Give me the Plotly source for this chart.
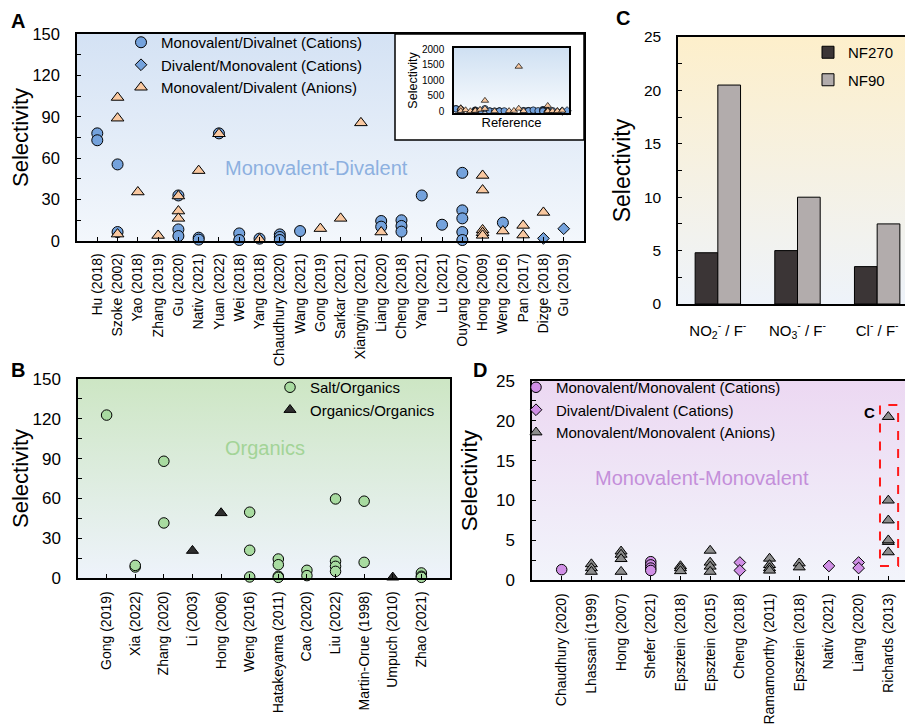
import base64
import plotly.graph_objects as go

# ---------------- data ----------------
A_CATS = ["Hu (2018)", "Szoke (2002)", "Yao (2018)", "Zhang (2019)", "Gu (2020)", "Nativ (2021)",
          "Yuan (2022)", "Wei (2018)", "Yang (2018)", "Chaudhury (2020)", "Wang (2021)", "Gong (2019)",
          "Sarkar (2021)", "Xiangying (2021)", "Liang (2020)", "Cheng (2018)", "Yang (2021)", "Lu (2021)",
          "Ouyang (2007)", "Hong (2009)", "Weng (2016)", "Pan (2017)", "Dizge (2018)", "Gu (2019)"]
# values per category (same order as A_CATS)
A_MONO_DIV_CATIONS = [[78, 73], [55.5, 6.5], [], [], [33, 8.4, 3.6], [2.4, 1.0], [78], [5.5, 0.7],
                      [1.7], [4.8, 2.9, 0.7], [7.2], [], [], [], [14.5, 10.4], [15, 10.9, 6.8], [33],
                      [11.8], [49.4, 22.2, 16.4, 6.5, 0.7], [], [13.3], [], [], []]
A_DIV_MONO_CATIONS = [[], [], [], [], [], [], [], [], [], [], [], [], [], [], [], [], [], [], [], [],
                      [], [], [1.9], [8.9]]
A_MONO_DIV_ANIONS = [[], [104, 89, 5], [35.5], [4], [32.6, 21.7, 16.4], [51], [77.7, 340], [], [1.2],
                     [], [], [9], [16.4], [85.6, 1440], [6.5], [], [], [], [],
                     [47.5, 36.9, 8, 6, 4.1, 175], [7.2], [11.3, 4.3], [20.7], []]
A_YTICKS = [0, 30, 60, 90, 120, 150]
INSET_YTICKS = [0, 500, 1000, 1500, 2000]

B_CATS = ["Gong (2019)", "Xia (2022)", "Zhang (2020)", "Li (2003)", "Hong (2006)", "Weng (2016)",
          "Hatakeyama (2011)", "Cao (2020)", "Liu (2022)", "Martin-Orue (1998)", "Umpuch (2010)", "Zhao (2021)"]
B_SALT_ORGANICS = [[122.8], [8.3, 9.5], [88, 41.5], [], [], [49.6, 20.9, 0.8], [14.3, 10, 1.3, 0.5],
                   [5.8, 1.8], [59.6, 12.6, 8.8, 5], [57.9, 11.8], [], [3.8, 1.3, 0.5]]
B_ORGANICS_ORGANICS = [[], [], [], [20.6], [49], [], [], [], [], [], [0.5], []]
B_YTICKS = [0, 30, 60, 90, 120, 150]

C_CATS = ["NO<sub>2</sub><sup>-</sup> / F<sup>-</sup>", "NO<sub>3</sub><sup>-</sup> / F<sup>-</sup>",
          "Cl<sup>-</sup> / F<sup>-</sup>"]
C_NF270 = [4.8, 5.0, 3.5]
C_NF90 = [20.5, 10.0, 7.5]
C_YTICKS = [0, 5, 10, 15, 20, 25]

D_CATS = ["Chaudhury (2020)", "Lhassani (1999)", "Hong (2007)", "Shefer (2021)", "Epsztein (2018)",
          "Epsztein (2015)", "Cheng (2018)", "Ramamoorthy (2011)", "Epsztein (2018)", "Nativ (2021)",
          "Liang (2020)", "Richards (2013)"]
D_MONO_MONO_CATIONS = [[1.3], [], [], [2.3, 1.9, 1.5, 1.2], [], [], [], [], [], [], [], []]
D_DIV_DIV_CATIONS = [[], [], [], [], [], [], [2.2, 1.2], [], [], [1.76], [2.2, 1.5], []]
D_MONO_MONO_ANIONS = [[], [2.0, 1.5, 1.05], [3.6, 3.2, 2.65, 1.05], [], [1.76, 1.5, 1.13],
                      [3.7, 2.2, 1.7, 1.05], [], [2.7, 1.9, 1.5, 1.2], [2.1, 1.6], [], [],
                      C_NF90 + C_NF270]
D_YTICKS = [0, 5, 10, 15, 20, 25]

# ---------------- helpers ----------------
W, H = 913, 725
FONT = "Liberation Sans, Arial, sans-serif"


def flatten(groups, vmax=None):
    xs, ys = [], []
    for i, vals in enumerate(groups):
        for v in vals:
            if vmax is None or v <= vmax:
                xs.append(i)
                ys.append(v)
    return xs, ys


def dom_x(p0, p1):
    return [p0 / W, p1 / W]


def dom_y(top, bottom):
    return [1 - bottom / H, 1 - top / H]


def grad(top, bottom):
    svg = ("<svg xmlns='http://www.w3.org/2000/svg' width='100' height='100' viewBox='0 0 100 100' "
           "preserveAspectRatio='none'><defs><linearGradient id='g' x1='0' y1='0' x2='0' y2='1'>"
           f"<stop offset='0' stop-color='{top}'/><stop offset='1' stop-color='{bottom}'/>"
           "</linearGradient></defs><rect x='0' y='0' width='100' height='100' fill='url(#g)'/></svg>")
    return "data:image/svg+xml;base64," + base64.b64encode(svg.encode()).decode()


def bg_image(src, x0, x1, y0, y1):
    return dict(source=src, xref="paper", yref="paper", x=x0 / W, y=1 - y0 / H,
                sizex=(x1 - x0) / W, sizey=(y1 - y0) / H, xanchor="left", yanchor="top",
                sizing="stretch", layer="below")


# panel boxes in pixels: (left, right, top, bottom)
PA = (69, 576, 26, 233)
PIN_BOX = (387, 576, 26, 132)
PIN = (446, 561, 40, 105)
PB = (70, 442, 371, 570)
PC = (670, 909, 29, 296)
PD = (524, 910, 373, 572)

BLUE = "#74a2dc"
PEACH = "#f9c8a0"
GREEN = "#a8dba0"
DARK = "#2e2e2e"
PURPLE = "#d08fe6"
GRAY = "#8c8c8c"
EDGE = dict(color="black", width=1)

fig = go.Figure()

# ---------------- panel A ----------------
a_series = [("Monovalent/Divalnet (Cations)", A_MONO_DIV_CATIONS, "circle", BLUE, 11),
            ("Divalent/Monovalent (Cations)", A_DIV_MONO_CATIONS, "diamond", BLUE, 9),
            ("Monovalent/Divalent (Anions)", A_MONO_DIV_ANIONS, "triangle-up", PEACH, 11)]
for name, groups, sym, col, size in a_series:
    xs, ys = flatten(groups, vmax=A_YTICKS[-1])
    fig.add_trace(go.Scatter(x=xs, y=ys, mode="markers", name=name, legend="legend",
                             marker=dict(symbol=sym, size=size, color=col, line=EDGE),
                             xaxis="x", yaxis="y", cliponaxis=False))
# inset (full range)
for name, groups, sym, col, size in a_series:
    xs, ys = flatten(groups)
    fig.add_trace(go.Scatter(x=xs, y=ys, mode="markers", name=name, showlegend=False,
                             marker=dict(symbol=sym, size=6.5, color=col,
                                         line=dict(color="black", width=0.7)),
                             xaxis="x5", yaxis="y5", cliponaxis=False))

# ---------------- panel B ----------------
b_series = [("Salt/Organics", B_SALT_ORGANICS, "circle", GREEN, 10.5),
            ("Organics/Organics", B_ORGANICS_ORGANICS, "triangle-up", DARK, 10.5)]
for name, groups, sym, col, size in b_series:
    xs, ys = flatten(groups)
    fig.add_trace(go.Scatter(x=xs, y=ys, mode="markers", name=name, legend="legend2",
                             marker=dict(symbol=sym, size=size, color=col, line=EDGE),
                             xaxis="x2", yaxis="y2", cliponaxis=False))

# ---------------- panel C ----------------
fig.add_trace(go.Bar(x=list(range(len(C_CATS))), y=C_NF270, name="NF270", legend="legend3",
                     legendgroup="nf270", marker=dict(color="#3b3536", line=dict(color="black", width=1)),
                     xaxis="x3", yaxis="y3"))
fig.add_trace(go.Bar(x=list(range(len(C_CATS))), y=C_NF90, name="NF90", legend="legend3",
                     legendgroup="nf90", marker=dict(color="#b2acac", line=dict(color="black", width=1)),
                     xaxis="x3", yaxis="y3"))

# ---------------- panel D ----------------
d_series = [("Monovalent/Monovalent (Cations)", D_MONO_MONO_CATIONS, "circle", PURPLE, 10.5),
            ("Divalent/Divalent (Cations)", D_DIV_DIV_CATIONS, "diamond", PURPLE, 9),
            ("Monovalent/Monovalent (Anions)", D_MONO_MONO_ANIONS, "triangle-up", GRAY, 10.5)]
for name, groups, sym, col, size in d_series:
    xs, ys = flatten(groups)
    fig.add_trace(go.Scatter(x=xs, y=ys, mode="markers", name=name, legend="legend4",
                             marker=dict(symbol=sym, size=size, color=col, line=EDGE),
                             xaxis="x4", yaxis="y4", cliponaxis=False))

# ---------------- axes ----------------
base = dict(showline=True, linecolor="black", linewidth=1.5, mirror=True, showgrid=False,
            zeroline=False, automargin=False)


def cat_axis(cats, box, anchor, size, standoff=6):
    return dict(base, domain=dom_x(box[0], box[1]), anchor=anchor, range=[-1, len(cats)],
                tickmode="array", tickvals=list(range(len(cats))), ticktext=cats, tickangle=-90,
                ticks="inside", ticklen=4, tickcolor="black", tickfont=dict(size=size),
                ticklabelstandoff=standoff)


def val_axis(box, anchor, ticks, size, tsize, standoff):
    step = ticks[1] - ticks[0]
    return dict(base, domain=dom_y(box[2], box[3]), anchor=anchor, range=[ticks[0], ticks[-1]],
                tickmode="array", tickvals=ticks, ticks="inside", ticklen=4, tickcolor="black",
                minor=dict(ticks="inside", ticklen=4, tickcolor="black", dtick=step / 2,
                           tick0=0),
                tickfont=dict(size=size), ticklabelstandoff=12,
                title=dict(text="Selectivity", font=dict(size=tsize), standoff=standoff))


fig.update_layout(
    xaxis=cat_axis(A_CATS, PA, "y", 14, 5),
    yaxis=val_axis(PA, "x", A_YTICKS, 16.5, 22, 16),
    xaxis2=cat_axis(B_CATS, PB, "y2", 14),
    yaxis2=val_axis(PB, "x2", B_YTICKS, 17, 22, 16),
    xaxis3=dict(base, domain=dom_x(PC[0], PC[1]), anchor="y3", range=[-0.5, len(C_CATS) - 0.5],
                tickmode="array", tickvals=list(range(len(C_CATS))), ticktext=C_CATS,
                ticks="", tickfont=dict(size=15), ticklabelstandoff=12),
    yaxis3=val_axis(PC, "x3", C_YTICKS, 15.5, 23, 7),
    xaxis4=cat_axis(D_CATS, PD, "y4", 14),
    yaxis4=val_axis(PD, "x4", D_YTICKS, 17, 22.5, 12),
    xaxis5=dict(base, domain=dom_x(PIN[0], PIN[1]), anchor="y5", range=[-0.4, len(A_CATS) - 0.6],
                showticklabels=False, ticks="",
                title=dict(text="Reference", font=dict(size=13), standoff=4)),
    yaxis5=dict(base, domain=dom_y(PIN[2], PIN[3]), anchor="x5",
                range=[INSET_YTICKS[0] - 60, INSET_YTICKS[-1] + 40],
                tickmode="array", tickvals=INSET_YTICKS, ticks="", tickfont=dict(size=10),
                ticklabelstandoff=6,
                title=dict(text="Selectivity", font=dict(size=12.5), standoff=2)),
)

legend_common = dict(bgcolor="rgba(0,0,0,0)", font=dict(size=15), xanchor="left", yanchor="top",
                     xref="paper", yref="paper", tracegroupgap=0, itemclick=False)
fig.update_layout(
    legend=dict(legend_common, x=113 / W, y=1 - 18 / H),
    legend2=dict(legend_common, x=262 / W, y=1 - 363 / H),
    legend3=dict(legend_common, x=800 / W, y=1 - 28 / H, traceorder="grouped", tracegroupgap=5),
    legend4=dict(legend_common, x=508 / W, y=1 - 363 / H),
)

# ---------------- backgrounds ----------------
fig.update_layout(images=[
    bg_image(grad("#d4e2f4", "#f3f7fc"), *PA),
    bg_image(grad("#ffffff", "#ffffff"), *PIN_BOX),
    bg_image(grad("#cfe0f2", "#f8fbfe"), *PIN),
    bg_image(grad("#cde6c4", "#eef3fb"), *PB),
    bg_image(grad("#fdefcb", "#eef3fa"), *PC),
    bg_image(grad("#ecd8f2", "#f2f4fb"), *PD),
])

# ---------------- shapes ----------------
fig.update_layout(shapes=[
    dict(type="rect", xref="paper", yref="paper", x0=PIN_BOX[0] / W, x1=PIN_BOX[1] / W,
         y0=1 - PIN_BOX[3] / H, y1=1 - PIN_BOX[2] / H, line=dict(color="black", width=1.5),
         fillcolor="rgba(0,0,0,0)", layer="above"),
    dict(type="rect", xref="x4", yref="y4", x0=10.72, x1=11.33, y0=1.76, y1=22,
         line=dict(color="#ff1a1a", width=2, dash="dash"), fillcolor="rgba(0,0,0,0)"),
])

# ---------------- annotations ----------------
ann = []
for letter, px, py in [("A", 10, 13), ("B", 10, 362), ("C", 615, 10), ("D", 472, 362)]:
    ann.append(dict(text=f"<b>{letter}</b>", x=px / W, y=1 - py / H, xref="paper", yref="paper",
                    showarrow=False, font=dict(size=20), xanchor="center", yanchor="middle"))
for text, px, py, col in [("Monovalent-Divalent", 308, 160, "#8db0e0"),
                          ("Organics", 257, 440, "#a3d497"),
                          ("Monovalent-Monovalent", 694, 470, "#c48fda")]:
    ann.append(dict(text=text, x=px / W, y=1 - py / H, xref="paper", yref="paper",
                    showarrow=False, font=dict(size=20, color=col), xanchor="center",
                    yanchor="middle"))
ann.append(dict(text="<b>C</b>", x=10.37, y=21.1, xref="x4", yref="y4", showarrow=False,
                font=dict(size=15), xanchor="center", yanchor="middle"))

fig.update_layout(
    annotations=ann,
    width=W, height=H, margin=dict(l=0, r=0, t=0, b=0),
    paper_bgcolor="white", plot_bgcolor="rgba(0,0,0,0)",
    font=dict(family=FONT, color="black"),
    bargap=0.43, bargroupgap=0, barmode="group",
    showlegend=True, hovermode=False,
)

fig.write_html("out.html")
